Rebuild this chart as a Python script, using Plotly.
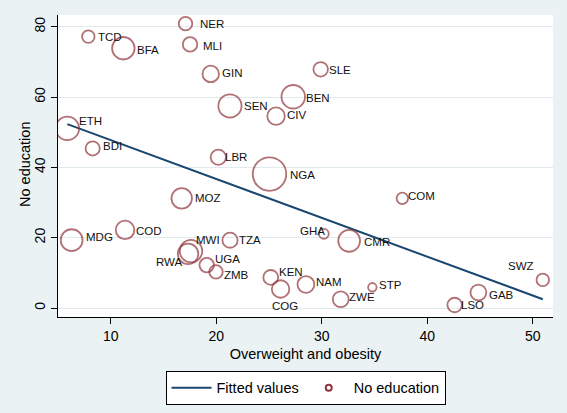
import plotly.graph_objects as go

# ---------------- data ----------------
countries = ["TCD", "BFA", "ETH", "BDI", "NER", "MLI", "GIN", "SLE", "BEN", "SEN",
             "CIV", "LBR", "NGA", "MOZ", "MDG", "COD", "MWI", "RWA", "TZA", "UGA",
             "ZMB", "KEN", "COG", "NAM", "GHA", "CMR", "ZWE", "STP", "COM", "SWZ",
             "GAB", "LSO"]
overweight = [7.88, 11.2, 5.89, 8.29, 17.09, 17.52, 19.48, 29.9, 27.3, 21.3,
              25.67, 20.2, 25.05, 16.73, 6.3, 11.36, 17.61, 17.33, 21.31, 19.1,
              19.98, 25.17, 26.1, 28.5, 30.2, 32.6, 31.8, 34.8, 37.64, 50.95,
              44.85, 42.6]
no_education = [77.2, 73.9, 51.1, 45.4, 80.9, 75.0, 66.6, 67.9, 60.1, 57.5,
                54.6, 42.9, 38.1, 31.2, 19.3, 22.2, 16.2, 15.4, 19.3, 12.2,
                10.3, 8.7, 5.4, 6.7, 21.1, 19.1, 2.5, 5.9, 31.2, 8.0,
                4.4, 0.85]
weight = [15.6, 50.6, 55.2, 20.2, 18.2, 21.0, 27.2, 21.0, 55.2, 53.8,
          30.6, 23.1, 112.2, 42.0, 47.5, 34.2, 50.6, 42.0, 23.1, 21.0,
          18.2, 21.9, 30.6, 28.2, 9.6, 47.5, 25.0, 7.2, 13.2, 15.6,
          25.0, 21.0]
fit_x = [5.89, 50.95]
fit_y = [52.3, 2.5]
x_ticks = [10, 20, 30, 40, 50]
y_ticks = [0, 20, 40, 60, 80]

# ---------------- style ----------------
MAROON = "#90353B"
NAVY = "#1A476F"
BG = "#EAF2F3"
GRID = "#E1EBEE"
FONT = "Liberation Sans, Arial, sans-serif"

# label placement: (anchor, dx px, dy px downward)
LABEL_POS = {
    "TCD": ("left", 10, 0), "BFA": ("left", 14, 2), "ETH": ("left", 12, -7.6),
    "BDI": ("left", 10, -2), "NER": ("left", 14, 0), "MLI": ("left", 12.7, 2),
    "GIN": ("left", 11.6, -0.7), "SLE": ("left", 8.3, 0.7), "BEN": ("left", 12.7, 1.6),
    "SEN": ("left", 14, 0), "CIV": ("left", 10.7, -1), "LBR": ("left", 7, 0),
    "NGA": ("left", 20.5, 1), "MOZ": ("left", 13.3, 0), "MDG": ("left", 14.3, -3.3),
    "COD": ("left", 11, 1), "MWI": ("left", 5, -11), "RWA": ("right", -5.3, 8.3),
    "TZA": ("left", 9.3, 0), "UGA": ("left", 8.3, -5.7), "ZMB": ("left", 8, 3.3),
    "KEN": ("left", 8.3, -5.6), "COG": ("center", 4.3, 16.7), "NAM": ("left", 10, -2.7),
    "GHA": ("right", 1, -3), "CMR": ("left", 15, 1.3), "ZWE": ("left", 8.3, -2),
    "STP": ("left", 7, -2), "COM": ("left", 5.4, -2.6), "SWZ": ("right", -8.4, -14),
    "GAB": ("left", 10.4, 2.3), "LSO": ("left", 6.7, 0),
}

fig = go.Figure()

fig.add_trace(go.Scatter(
    x=fit_x, y=fit_y, mode="lines", name="Fitted values",
    line=dict(color=NAVY, width=2), hoverinfo="skip"))

fig.add_trace(go.Scatter(
    x=overweight, y=no_education, mode="markers", name="No education",
    showlegend=False, text=countries,
    marker=dict(size=weight, sizemode="area", sizeref=0.2, symbol="circle-open",
                color=MAROON, line=dict(color=MAROON, width=1.8))))

# legend-only entry with small marker
fig.add_trace(go.Scatter(
    x=[None], y=[None], mode="markers", name="No education",
    marker=dict(size=6, symbol="circle-open", color=MAROON,
                line=dict(color=MAROON, width=2))))

for c, xv, yv in zip(countries, overweight, no_education):
    anchor, dx, dy = LABEL_POS[c]
    fig.add_annotation(x=xv, y=yv, text=c, showarrow=False,
                       xanchor=anchor, yanchor="middle",
                       xshift=dx, yshift=-dy, borderpad=0, borderwidth=0,
                       font=dict(family=FONT, size=11.5, color="#111111"))

# y-axis title placed as rotated text left of the axis
fig.add_annotation(text="No education", xref="paper", yref="paper",
                   x=(25 - 58) / 495, y=(317 - 165) / 302,
                   xanchor="center", yanchor="middle", textangle=-90,
                   showarrow=False, font=dict(family=FONT, size=14.5, color="black"))

fig.update_layout(
    width=567, height=413,
    margin=dict(l=58, r=14, t=15, b=96, autoexpand=False),
    paper_bgcolor=BG, plot_bgcolor="white",
    font=dict(family=FONT, size=14, color="black"),
    showlegend=True,
    legend=dict(orientation="h", x=0.5, xanchor="center", y=-0.178, yanchor="top",
                bgcolor="white", bordercolor="black", borderwidth=1,
                font=dict(size=14.5), traceorder="normal",
                itemwidth=40),
    xaxis=dict(range=[5.005, 51.92], tickvals=x_ticks, showgrid=False, zeroline=False,
               showline=True, linecolor="black", linewidth=1, automargin=False,
               ticks="outside", ticklen=6, tickcolor="black",
               title=dict(text="Overweight and obesity", standoff=6,
                          font=dict(size=14.5))),
    yaxis=dict(range=[-2.56, 83.36], tickvals=y_ticks, showgrid=True, gridcolor=GRID,
               gridwidth=1.2, zeroline=False, automargin=False,
               showline=True, linecolor="black", linewidth=1,
               ticks="outside", ticklen=6, tickcolor="black", tickangle=-90),
)

fig.write_html("out.html", config={"displayModeBar": False},
               post_script="document.body.style.margin='0';document.body.style.background='#EAF2F3';")
